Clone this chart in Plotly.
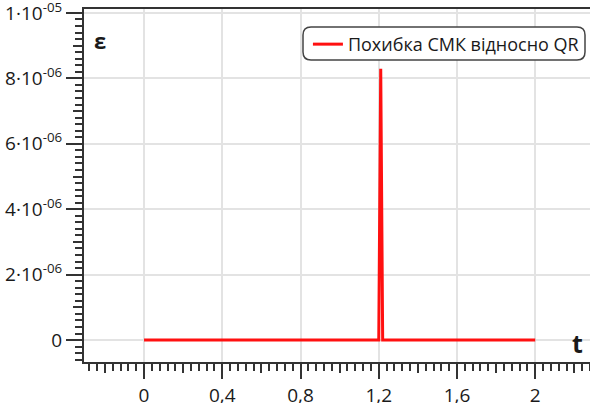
import plotly.graph_objects as go

# data
t_vals = [0, 1.2, 1.21, 1.22, 2]
eps_vals = [0, 0, 8.29e-06, 0, 0]
series_name = "Похибка СМК відносно QR"
x_ticks = [0, 0.4, 0.8, 1.2, 1.6, 2]
x_tick_text = ["0", "0,4", "0,8", "1,2", "1,6", "2"]
y_ticks = [0, 2e-06, 4e-06, 6e-06, 8e-06, 1e-05]
y_tick_text = ["0", "2·10<sup>-06</sup>", "4·10<sup>-06</sup>", "6·10<sup>-06</sup>",
               "8·10<sup>-06</sup>", "1·10<sup>-05</sup>"]

W, H = 590, 403
L, R, T, B = 84, 0, 9, 41
xr = [-0.307, 2.28]
yr = [-0.67e-06, 1.012e-05]
FONT = "Open Sans"
AX = "#333333"
TXT = "#1a1a1a"

fig = go.Figure()
fig.add_trace(go.Scatter(x=t_vals, y=eps_vals, mode="lines", name=series_name,
                         line=dict(color="#ff1010", width=3)))

fig.update_layout(
    width=W, height=H,
    margin=dict(l=L, r=R, t=T, b=B, pad=0, autoexpand=False),
    paper_bgcolor="white", plot_bgcolor="white",
    font=dict(family=FONT, size=19, color=TXT),
    showlegend=True,
    legend=dict(x=0.988, y=0.952, xanchor="right", yanchor="top",
                bgcolor="rgba(0,0,0,0)", borderwidth=0,
                font=dict(size=18, color=TXT),
                itemwidth=30),
    xaxis=dict(range=xr, tickmode="array", tickvals=x_ticks, ticktext=x_tick_text,
               showgrid=True, gridcolor="#e3e3e3", gridwidth=1.5, zeroline=False,
               showline=True, linecolor=AX, linewidth=2, mirror=True,
               automargin=False,
               ticks="outside", ticklen=15, tickwidth=2, tickcolor=AX,
               minor=dict(tick0=0, dtick=0.04, ticks="outside", ticklen=7,
                          tickwidth=1.5, tickcolor=AX, showgrid=False)),
    yaxis=dict(range=yr, tickmode="array", tickvals=y_ticks, ticktext=y_tick_text,
               showgrid=True, gridcolor="#e3e3e3", gridwidth=1.5, zeroline=False,
               showline=True, linecolor=AX, linewidth=2,
               automargin=False, ticklabeloverflow="allow",
               ticks="outside", ticklen=16, tickwidth=2, tickcolor=AX,
               minor=dict(tick0=0, dtick=2e-07, ticks="outside", ticklen=7,
                          tickwidth=1.5, tickcolor=AX, showgrid=False)),
    xaxis2=dict(range=xr, overlaying="x", side="bottom", tickmode="linear",
                tick0=0.2, dtick=0.4, showticklabels=False, showgrid=False,
                zeroline=False, ticks="outside", ticklen=10, tickwidth=1.5,
                tickcolor=AX, showline=False, automargin=False),
    yaxis2=dict(range=yr, overlaying="y", side="left", tickmode="linear",
                tick0=1e-06, dtick=2e-06, showticklabels=False, showgrid=False,
                zeroline=False, ticks="outside", ticklen=10, tickwidth=1.5,
                tickcolor=AX, showline=False, automargin=False),
)

# invisible trace to activate overlay axes
fig.add_trace(go.Scatter(x=[None], y=[None], xaxis="x2", yaxis="y2",
                         showlegend=False, hoverinfo="skip"))

# rounded legend box
pw, ph = W - L - R, H - T - B
x0, x1 = (303 - L) / pw, (585 - L) / pw
y1, y0 = (H - B - 27) / ph, (H - B - 60) / ph
rx, ry = 8 / pw, 8 / ph
path = (f"M {x0+rx},{y1} L {x1-rx},{y1} Q {x1},{y1} {x1},{y1-ry} "
        f"L {x1},{y0+ry} Q {x1},{y0} {x1-rx},{y0} L {x0+rx},{y0} "
        f"Q {x0},{y0} {x0},{y0+ry} L {x0},{y1-ry} Q {x0},{y1} {x0+rx},{y1} Z")
fig.add_shape(type="path", path=path, xref="paper", yref="paper",
              line=dict(color="#444444", width=1.5), fillcolor="white", layer="above")

# axis titles
fig.add_annotation(text="<b>ε</b>", xref="paper", yref="paper",
                   x=(100 - L) / pw, y=(H - B - 40) / ph, showarrow=False,
                   xanchor="center", yanchor="middle",
                   font=dict(size=22, color=TXT, family=FONT))
fig.add_annotation(text="<b>t</b>", xref="paper", yref="paper",
                   x=(577 - L) / pw, y=(H - B - 343) / ph, showarrow=False,
                   xanchor="center", yanchor="middle",
                   font=dict(size=25, color=TXT, family=FONT))

fig.write_html("out.html", config={"displayModeBar": False},
               post_script="document.body.style.margin='0';document.body.style.padding='0';")
